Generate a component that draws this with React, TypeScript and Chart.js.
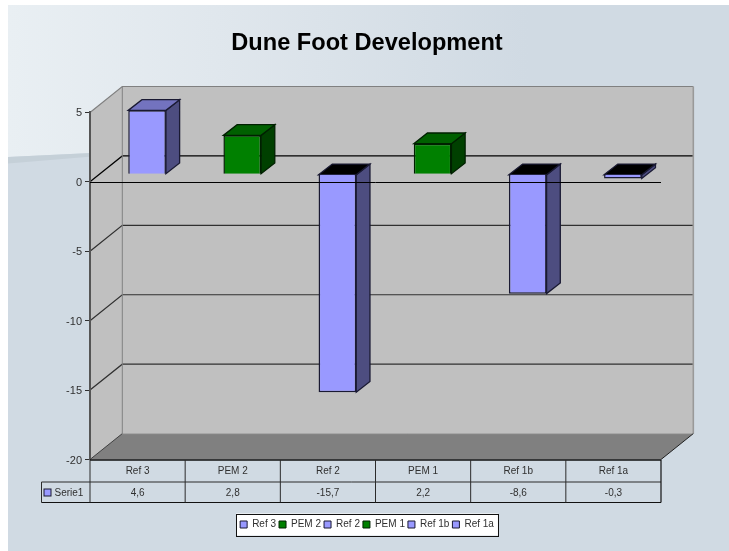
import React, { useEffect, useRef } from "react";
import { Chart, registerables } from "chart.js";

Chart.register(...registerables);

const categories = ["Ref 3", "PEM 2", "Ref 2", "PEM 1", "Ref 1b", "Ref 1a"];
const seriesName = "Serie1";
const values = [4.6, 2.8, -15.7, 2.2, -8.6, -0.3];

const FONT = "'Liberation Sans', Arial, sans-serif";
const W = 721;
const H = 546;
// 3D projection offsets
const WALL_DX = 32.3;
const WALL_DY = 25.9;
const BAR_SHIFT_X = 9.5;
const BAR_SHIFT_Y = 7.6;
const BAR_DX = 13.7;
const BAR_DY = 10.7;

const isGreen = (c: string) => c.startsWith("PEM");
const frontColor = (c: string) => (isGreen(c) ? "#008000" : "#9999FF");
const sideColor = (c: string) => (isGreen(c) ? "#004000" : "#4D4D80");
const topColor = (c: string) => (isGreen(c) ? "#006000" : "#7373BF");
const edgeColor = (c: string) => (isGreen(c) ? "#002000" : "#1A1A33");

function poly(ctx: CanvasRenderingContext2D, pts: number[][], fill?: any, stroke?: string, lw = 1) {
  ctx.beginPath();
  pts.forEach(([x, y], i) => (i ? ctx.lineTo(x, y) : ctx.moveTo(x, y)));
  if (fill) {
    ctx.closePath();
    ctx.fillStyle = fill;
    ctx.fill();
  }
  if (stroke) {
    ctx.strokeStyle = stroke;
    ctx.lineWidth = lw;
    ctx.stroke();
  }
}

const scenePlugin = {
  id: "scene",
  beforeDraw(chart: any) {
    const { ctx, chartArea: a, scales } = chart;
    const y = scales.y;
    // slide background
    ctx.save();
    ctx.fillStyle = "#D0DAE3";
    ctx.fillRect(0, 0, W, H);
    const g = ctx.createLinearGradient(0, 0, 520, 0);
    g.addColorStop(0, "#E9EFF3");
    g.addColorStop(0.4, "#E0E7ED");
    g.addColorStop(1, "#D0DAE3");
    poly(ctx, [[0, 0], [W, 0], [W, 120], [120, 146.2], [0, 152]], g);
    poly(ctx, [[0, 152], [120, 146.2], [120, 148.5], [0, 158.5]], "#C5D0D8");

    const l = a.left, r = a.right, t = a.top, b = a.bottom;
    const bl = l + WALL_DX, br = r + WALL_DX, bt = t - WALL_DY, bb = b - WALL_DY;
    // back wall, side wall, floor
    poly(ctx, [[bl, bt], [br, bt], [br, bb], [bl, bb]], "#C0C0C0");
    poly(ctx, [[l, t], [bl, bt], [bl, bb], [l, b]], "#C0C0C0");
    poly(ctx, [[l, b], [bl, bb], [br, bb], [r, b]], "#808080");
    // gridlines on walls
    y.ticks.forEach((tick: any) => {
      const py = y.getPixelForValue(tick.value);
      if (tick.value === y.max || tick.value === y.min) return;
      const col = tick.value === 0 ? "#000000" : "#303030";
      poly(ctx, [[l, py], [bl, py - WALL_DY], [br, py - WALL_DY]], undefined, col, 1.2);
    });
    // wall edges
    poly(ctx, [[l, t], [bl, bt], [br, bt]], undefined, "#808080", 1.2);
    poly(ctx, [[br, bt], [br, bb]], undefined, "#999999", 1.6);
    poly(ctx, [[bl, bt], [bl, bb]], undefined, "#808080", 1);
    poly(ctx, [[bl, bb], [br, bb]], undefined, "#A8A8A8", 1);
    poly(ctx, [[l, b], [bl, bb]], undefined, "#404040", 1);
    poly(ctx, [[r, b], [br, bb]], undefined, "#202020", 1);

    // legend frame
    const boxes = chart.legend.legendHitBoxes;
    if (boxes && boxes.length) {
      const x0 = Math.min(...boxes.map((h: any) => h.left)) - 4;
      const x1 = Math.max(...boxes.map((h: any) => h.left + h.width)) + 4;
      const y0 = boxes[0].top - 6;
      const y1 = boxes[0].top + boxes[0].height + 6;
      ctx.fillStyle = "#FFFFFF";
      ctx.fillRect(x0, y0, x1 - x0, y1 - y0);
      ctx.strokeStyle = "#111111";
      ctx.lineWidth = 1;
      ctx.strokeRect(Math.round(x0) + 0.5, Math.round(y0) + 0.5, Math.round(x1 - x0), Math.round(y1 - y0));
    }
    ctx.restore();
  },
  beforeDatasetsDraw(chart: any) {
    const { ctx } = chart;
    ctx.save();
    ctx.translate(BAR_SHIFT_X, -BAR_SHIFT_Y);
    chart.getDatasetMeta(0).data.forEach((el: any, i: number) => {
      const p = el.getProps(["x", "y", "base", "width"], true);
      const cat = categories[i];
      const left = p.x - p.width / 2, right = p.x + p.width / 2;
      const top = Math.min(p.y, p.base), bottom = Math.max(p.y, p.base);
      const e = edgeColor(cat);
      poly(ctx, [[right, top], [right + BAR_DX, top - BAR_DY], [right + BAR_DX, bottom - BAR_DY], [right, bottom]], sideColor(cat), e, 1.3);
      poly(ctx, [[left, top], [left + BAR_DX, top - BAR_DY], [right + BAR_DX, top - BAR_DY], [right, top]], values[i] < 0 ? "#000000" : topColor(cat), e, 1.3);
    });
  },
  afterDatasetsDraw(chart: any) {
    const { ctx, chartArea: a, scales } = chart;
    ctx.restore();
    ctx.save();
    // zero line on the front plane, over the bars
    const zero = Math.round(scales.y.getPixelForValue(0)) + 0.5;
    poly(ctx, [[a.left, zero], [a.right, zero]], undefined, "#000000", 1);

    // data table
    const x = scales.x;
    const rowTop = a.bottom + 0.5;
    const row1 = rowTop + 22;
    const row2 = row1 + 20.5;
    const cellLeft = a.left - 48.5;
    const line = "#2B2B2B";
    poly(ctx, [[a.left, rowTop], [a.right, rowTop]], undefined, "#111111", 1.6);
    poly(ctx, [[cellLeft, row1], [a.right, row1]], undefined, line, 1);
    poly(ctx, [[cellLeft, row2], [a.right, row2]], undefined, "#111111", 1.2);
    poly(ctx, [[cellLeft, row1], [cellLeft, row2]], undefined, line, 1);
    categories.forEach((_, i) => {
      const vx = x.getPixelForValue(i - 0.5);
      poly(ctx, [[vx, rowTop], [vx, row2]], undefined, line, 1);
    });
    poly(ctx, [[a.right, rowTop], [a.right, row2]], undefined, "#111111", 1.2);

    ctx.font = `10px ${FONT}`;
    ctx.fillStyle = "#303030";
    ctx.textBaseline = "middle";
    ctx.textAlign = "center";
    values.forEach((v, i) => {
      ctx.fillText(String(v).replace(".", ","), x.getPixelForValue(i), row1 + 11);
    });
    ctx.textAlign = "left";
    ctx.fillText(seriesName, cellLeft + 13, row1 + 11);
    const sw = cellLeft + 2.5;
    ctx.fillStyle = "#9999FF";
    ctx.fillRect(sw, row1 + 7, 7, 7);
    ctx.strokeStyle = "#1A1A33";
    ctx.lineWidth = 1;
    ctx.strokeRect(sw, row1 + 7, 7, 7);
    ctx.restore();
  },
};

export default function App() {
  const ref = useRef<HTMLCanvasElement | null>(null);
  useEffect(() => {
    const chart = new Chart(ref.current as HTMLCanvasElement, {
      type: "bar",
      data: {
        labels: categories,
        datasets: [
          {
            label: seriesName,
            data: values,
            backgroundColor: categories.map(frontColor),
            borderColor: categories.map(edgeColor),
            borderWidth: 1.5,
            barPercentage: 0.396,
            categoryPercentage: 1,
            clip: false,
            yAxisID: "y",
          } as any,
        ],
      },
      options: {
        animation: false,
        responsive: false,
        devicePixelRatio: 1,
        events: [],
        layout: { autoPadding: false, padding: { top: 0, left: 0, right: 3, bottom: 11.5 } },
        plugins: {
          title: {
            display: true,
            text: "Dune Foot Development",
            color: "#000000",
            font: { family: FONT, size: 23.6, weight: "bold", lineHeight: 1.2 },
            padding: { top: 24, bottom: 55.1 },
          },
          legend: {
            position: "bottom",
            onClick: () => {},
            labels: {
              boxWidth: 7,
              boxHeight: 7,
              padding: 3,
              color: "#303030",
              font: { family: FONT, size: 10 },
              generateLabels: () =>
                categories.map((c, i) => ({
                  text: c,
                  fillStyle: frontColor(c),
                  strokeStyle: edgeColor(c),
                  lineWidth: 1,
                  lineJoin: "miter",
                  hidden: false,
                  index: i,
                  fontColor: "#303030",
                })),
            },
          },
          tooltip: { enabled: false },
        },
        scales: {
          x: {
            type: "category",
            afterFit: (s: any) => {
              s.height = 57;
            },
            grid: { display: false, drawTicks: false },
            border: { display: false },
            ticks: {
              autoSkip: false,
              maxRotation: 0,
              padding: 6,
              color: "#303030",
              font: { family: FONT, size: 10 },
            },
          },
          y: {
            type: "linear",
            min: -20,
            max: 5,
            afterFit: (s: any) => {
              s.width = 82;
            },
            grid: {
              drawOnChartArea: false,
              tickLength: 5,
              color: "#303030",
            },
            border: { color: "#555555", width: 2 },
            ticks: {
              stepSize: 5,
              padding: 3,
              labelOffset: 1,
              color: "#303030",
              font: { family: FONT, size: 11 },
            },
          },
          // empty right-hand gutter: leaves room for the 3D depth without moving the title and legend
          depth: {
            type: "linear",
            position: "right",
            min: -20,
            max: 5,
            afterFit: (s: any) => {
              s.width = 65;
            },
            grid: { display: false, drawTicks: false },
            border: { display: false },
            ticks: { display: false },
          },
        },
      },
      plugins: [scenePlugin],
    } as any);
    return () => chart.destroy();
  }, []);
  return (
    <div style={{ position: "fixed", left: 8, top: 5, width: W, height: H, overflow: "hidden" }}>
      <canvas ref={ref} width={W} height={H} style={{ display: "block" }} />
    </div>
  );
}
